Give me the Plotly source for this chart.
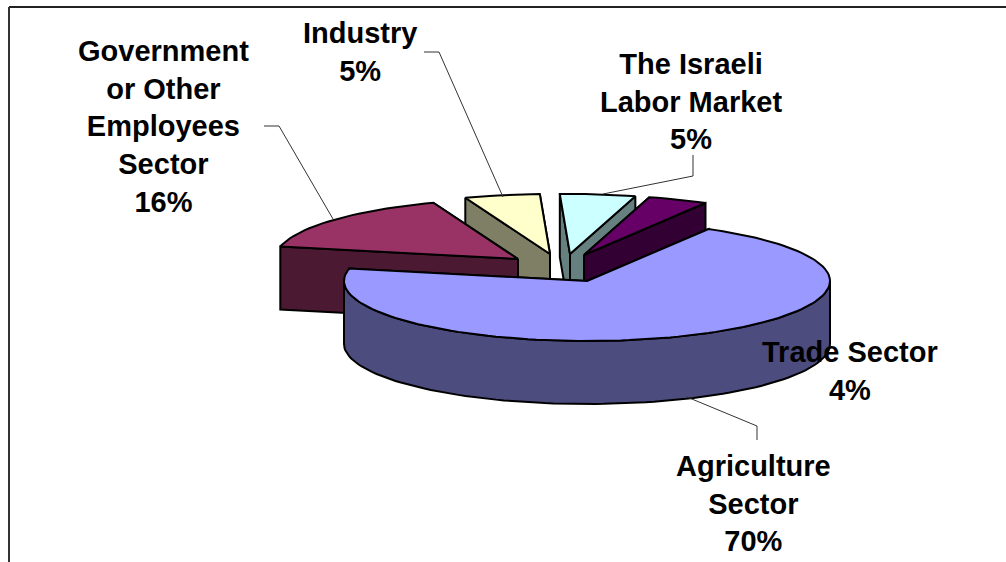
import math
import plotly.graph_objects as go

# --- data ---
sectors = ["Trade Sector", "The Israeli Labor Market", "Industry",
           "Government or Other Employees Sector", "Agriculture Sector"]
shares = [4, 5, 5, 16, 70]
label_lines = ["Trade Sector<br>4%", "The Israeli<br>Labor Market<br>5%", "Industry<br>5%",
               "Government<br>or Other<br>Employees<br>Sector<br>16%", "Agriculture<br>Sector<br>70%"]

# --- styling / layout (pixel space of the 1006x562 page) ---
top_colors = ["#660066", "#CCFFFF", "#FFFFCC", "#993366", "#9999FF"]
side_colors = ["#330033", "#667F7F", "#7F7F66", "#4C1933", "#4C4C7F"]
apex_x = [584, 570, 550, 518, 587]
apex_y = [255, 254, 254, 259, 281]
label_x = [850, 691, 360, 163, 753]
label_y = [371, 101, 52, 126, 503]
draw_order = [1, 2, 0, 3, 4]  # back to front
RX, RY, DEPTH = 243, 60, 63
START_ANGLE = 60  # degrees, slices listed counter-clockwise


def arc(cx, cy, a0, a1):
    n = max(2, int(abs(a1 - a0) / 2) + 1)
    pts = [a0 + (a1 - a0) * i / (n - 1) for i in range(n)]
    return ([cx + RX * math.cos(math.radians(a)) for a in pts],
            [cy - RY * math.sin(math.radians(a)) for a in pts])


def poly(xs, ys, fill, lw=2):
    return go.Scatter(x=xs + xs[:1], y=ys + ys[:1], mode="lines", fill="toself",
                      fillcolor=fill, line=dict(color="black", width=lw),
                      hoverinfo="skip", showlegend=False)


angles = [START_ANGLE]
for share in shares:
    angles.append(angles[-1] + share * 3.6)

fig = go.Figure()
for i in draw_order:
    a0, a1 = angles[i], angles[i + 1]
    cx, cy = apex_x[i], apex_y[i]
    # radial cut faces: the one nearer the viewer goes on top
    for ang in sorted((a0, a1), key=lambda t: -math.sin(math.radians(t))):
        px = cx + RX * math.cos(math.radians(ang))
        py = cy - RY * math.sin(math.radians(ang))
        fig.add_trace(poly([cx, px, px, cx], [cy, py, py + DEPTH, cy + DEPTH], side_colors[i]))
    # outer rim on the viewer's side
    rim_start, rim_end = max(a0, 180), min(a1, 360)
    if rim_end > rim_start:
        ux, uy = arc(cx, cy, rim_start, rim_end)
        fig.add_trace(poly(ux + ux[::-1], uy + [y + DEPTH for y in uy[::-1]], side_colors[i]))
    # top face
    tx, ty = arc(cx, cy, a0, a1)
    fig.add_trace(poly([cx] + tx, [cy] + ty, top_colors[i]))

leaders = [
    [(264, 126), (279, 126), (333, 219)],
    [(424, 52), (439, 52), (503, 197)],
    [(603, 194), (693, 176), (693, 155)],
    [(687, 397), (757, 426), (757, 440)],
]
shapes = [dict(type="line", x0=p[0], y0=p[1], x1=q[0], y1=q[1], xref="x", yref="y",
               line=dict(color="#333333", width=1))
          for path in leaders for p, q in zip(path, path[1:])]
shapes += [
    dict(type="line", x0=9, y0=7, x1=1006, y1=7, xref="x", yref="y", line=dict(color="#222222", width=2)),
    dict(type="line", x0=9, y0=7, x1=9, y1=562, xref="x", yref="y", line=dict(color="#333333", width=2)),
]

annotations = [dict(x=label_x[i], y=label_y[i], xref="x", yref="y", text=f"<b>{label_lines[i]}</b>",
                    showarrow=False, align="center", xanchor="center", yanchor="middle",
                    font=dict(family="Liberation Sans", size=29, color="black"))
               for i in range(len(sectors))]

fig.update_layout(
    width=1006, height=562, margin=dict(l=0, r=0, t=0, b=0),
    paper_bgcolor="white", plot_bgcolor="white", showlegend=False,
    xaxis=dict(range=[0, 1006], visible=False, fixedrange=True),
    yaxis=dict(range=[562, 0], visible=False, fixedrange=True),
    shapes=shapes, annotations=annotations,
)
fig.write_html("out.html", config={"displayModeBar": False},
               post_script="document.body.style.margin='0';document.body.style.overflow='hidden';")
